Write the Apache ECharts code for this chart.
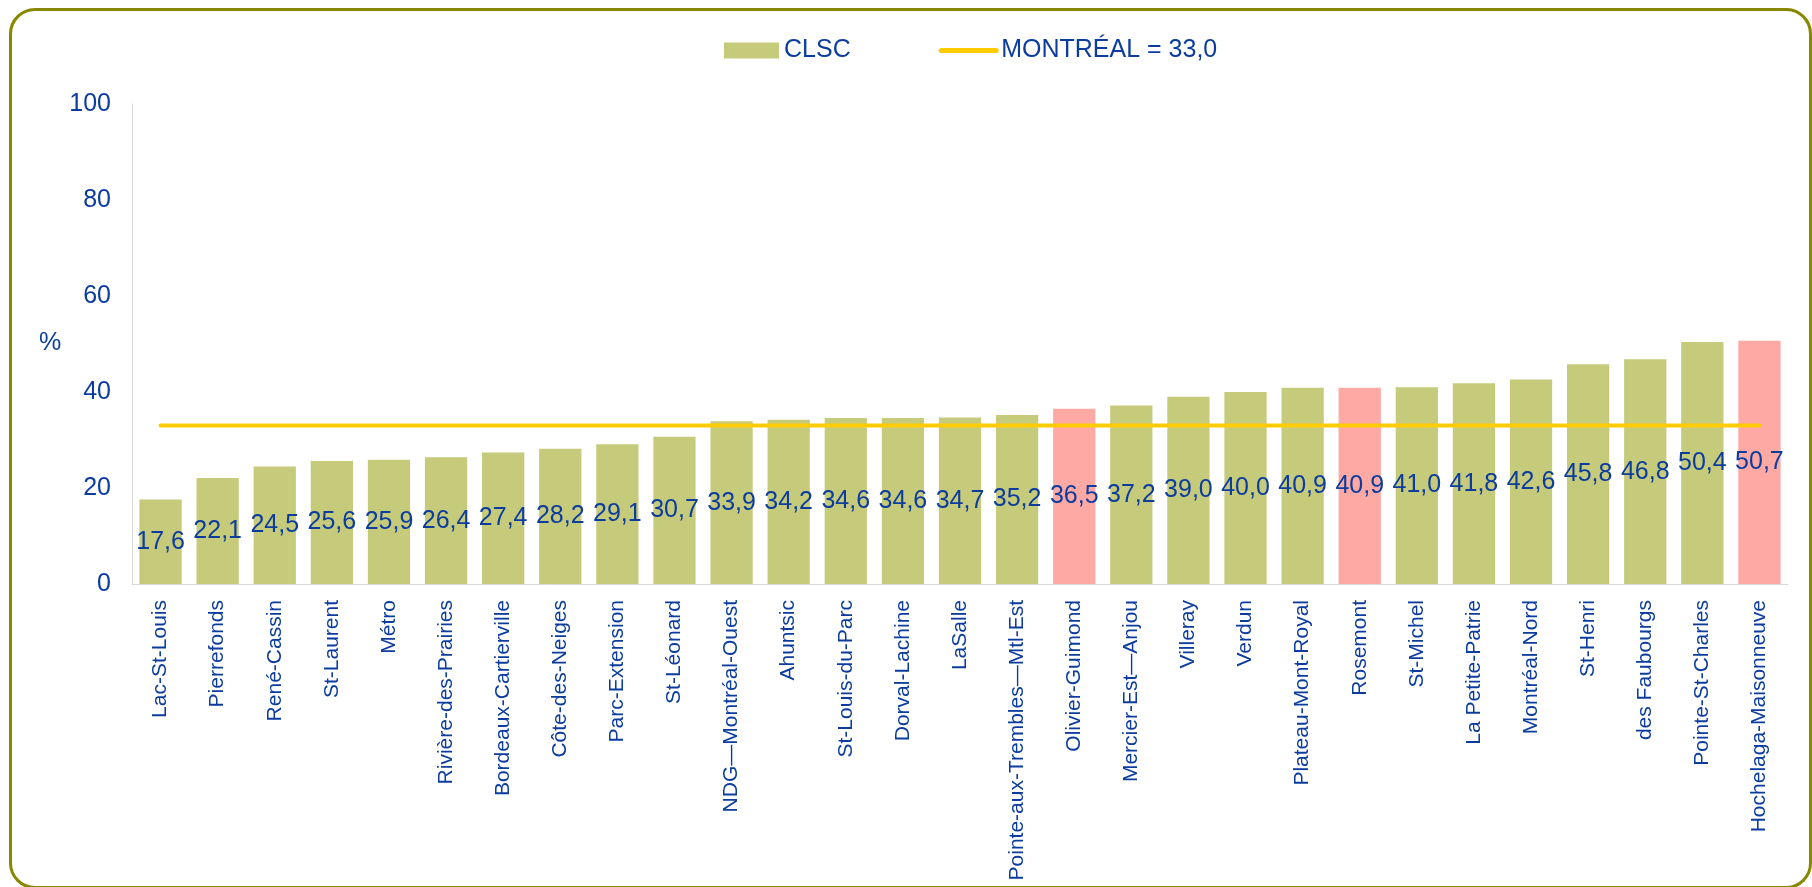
<!DOCTYPE html>
<html>
<head>
<meta charset="utf-8">
<script src="https://cdn.jsdelivr.net/npm/echarts@6/dist/echarts.min.js"></script>
<style>
  html, body { margin: 0; padding: 0; background: #fff; }
  #chart { position: absolute; left: 0; top: 0; width: 1812px; height: 887px; }
  /* cadre arrondi olive */
  #frame {
    position: absolute; left: 9px; top: 8px; width: 1797px; height: 875px;
    border: 3px solid #878700; border-radius: 26px; pointer-events: none;
  }
</style>
</head>
<body>
<div id="chart"></div>
<div id="frame"></div>
<script>
const categories = ['Lac-St-Louis', 'Pierrefonds', 'René-Cassin', 'St-Laurent', 'Métro',
  'Rivière-des-Prairies', 'Bordeaux-Cartierville', 'Côte-des-Neiges', 'Parc-Extension',
  'St-Léonard', 'NDG—Montréal-Ouest', 'Ahuntsic', 'St-Louis-du-Parc', 'Dorval-Lachine',
  'LaSalle', 'Pointe-aux-Trembles—Mtl-Est', 'Olivier-Guimond', 'Mercier-Est—Anjou',
  'Villeray', 'Verdun', 'Plateau-Mont-Royal', 'Rosemont', 'St-Michel', 'La Petite-Patrie',
  'Montréal-Nord', 'St-Henri', 'des Faubourgs', 'Pointe-St-Charles', 'Hochelaga-Maisonneuve'];
const clscValues = [17.6, 22.1, 24.5, 25.6, 25.9, 26.4, 27.4, 28.2, 29.1, 30.7, 33.9, 34.2,
  34.6, 34.6, 34.7, 35.2, 36.5, 37.2, 39.0, 40.0, 40.9, 40.9, 41.0, 41.8, 42.6, 45.8, 46.8,
  50.4, 50.7];
const highlighted = ['Olivier-Guimond', 'Rosemont', 'Hochelaga-Maisonneuve'];
const montrealValue = 33.0;
const yTicks = [0, 20, 40, 60, 80, 100];

const blue = '#0B3C9E';
const green = '#C6CA7B';
const pink = '#FFA9A5';
const yellow = '#FFCC00';
const font = 'Liberation Sans, Arial, sans-serif';
const fmt = v => v.toFixed(1).replace('.', ',');
const lineName = 'MONTRÉAL = ' + fmt(montrealValue);

const chart = echarts.init(document.getElementById('chart'));
chart.setOption({
  animation: false,
  textStyle: { fontFamily: font },
  legend: {
    left: 719,
    top: 33,
    itemWidth: 55,
    itemHeight: 16,
    itemGap: 88,
    textStyle: { color: blue, fontSize: 25, fontFamily: font },
    data: [
      { name: 'CLSC', icon: 'rect' },
      { name: lineName, itemStyle: { color: 'rgba(0,0,0,0)', borderWidth: 0 },
        lineStyle: { width: 5, cap: 'round', color: yellow } }
    ]
  },
  grid: { left: 132, right: 24, top: 104, bottom: 303, outerBoundsMode: 'none', containLabel: false },
  xAxis: {
    type: 'category',
    data: categories,
    axisLine: { lineStyle: { color: '#D9D9D9', width: 1 } },
    axisTick: { show: false },
    axisLabel: { interval: 0, rotate: 90, margin: 16, color: blue, fontSize: 21, fontFamily: font }
  },
  yAxis: {
    type: 'value',
    min: yTicks[0],
    max: yTicks[yTicks.length - 1],
    interval: 20,
    axisLine: { show: true, lineStyle: { color: '#D9D9D9', width: 1 } },
    axisTick: { show: false },
    splitLine: { show: false },
    axisLabel: { margin: 21, color: blue, fontSize: 25, fontFamily: font }
  },
  graphic: [{
    type: 'text', left: 39, top: 331,
    style: { text: '%', fill: blue, fontSize: 25, fontFamily: font }
  }],
  series: [
    {
      name: 'CLSC',
      type: 'bar',
      barWidth: '74%',
      data: clscValues.map((v, i) => ({
        value: v,
        itemStyle: { color: highlighted.includes(categories[i]) ? pink : green }
      })),
      itemStyle: { color: green },
      label: {
        show: true,
        position: 'inside',
        color: blue,
        fontSize: 25,
        fontFamily: font,
        formatter: p => fmt(p.value)
      }
    },
    {
      name: lineName,
      type: 'line',
      symbol: 'none',
      data: categories.map(() => montrealValue),
      lineStyle: { color: yellow, width: 4, cap: 'round' },
      itemStyle: { color: yellow },
      z: 5
    }
  ]
});
</script>
</body>
</html>
